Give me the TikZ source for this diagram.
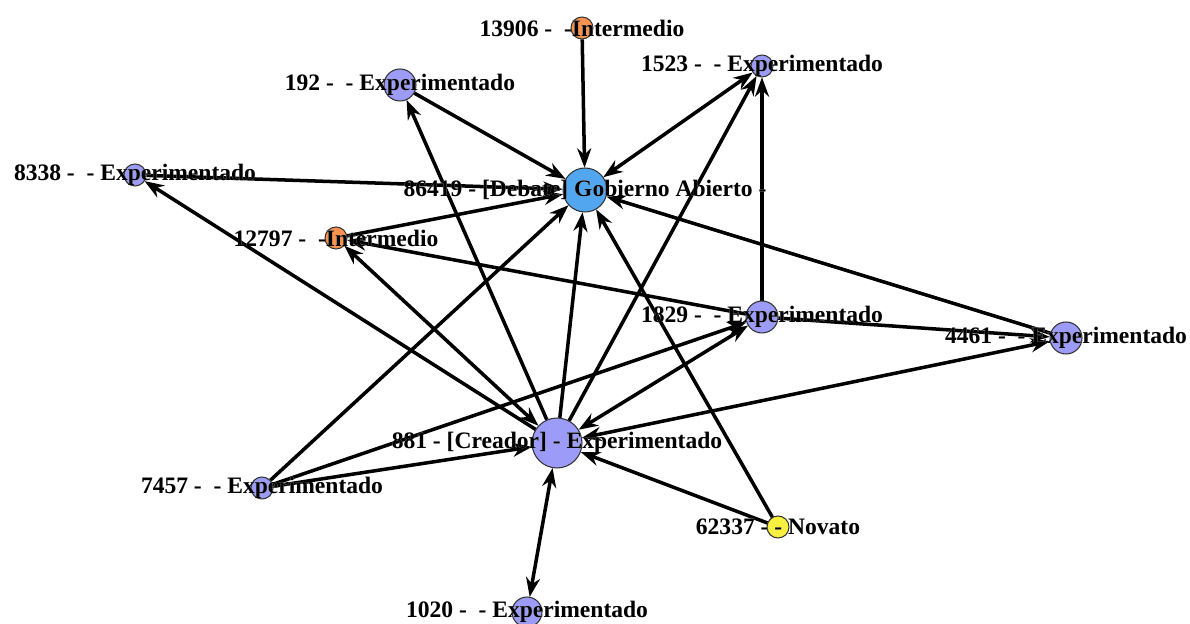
\documentclass[tikz,border=0pt]{standalone}
\usepackage{fontspec}
\setmainfont{Liberation Serif}
\usepackage[outline]{contour}
\contourlength{0.7pt}
\usetikzlibrary{arrows.meta}
\definecolor{expcol}{HTML}{9C9CF8}
\definecolor{debcol}{HTML}{52A6F0}
\definecolor{intcol}{HTML}{F8924E}
\definecolor{novcol}{HTML}{F8F040}
\definecolor{halocol}{HTML}{E6E6E6}
\tikzset{
  vert/.style={circle, draw=black!80, line width=0.6pt, inner sep=0pt},
  exp/.style={vert, fill=expcol},
  deb/.style={vert, fill=debcol},
  int/.style={vert, fill=intcol},
  nov/.style={vert, fill=novcol},
  big/.style={minimum size=1.0cm},
  mid/.style={minimum size=0.88cm},
  med/.style={minimum size=0.64cm},
  sml/.style={minimum size=0.44cm},
  lbl/.style={inner sep=0pt, font=\fontsize{13.4}{15}\selectfont\bfseries, text=black},
  edge/.style={line width=2pt, -{Stealth[length=11pt,width=8pt]}},
  bedge/.style={line width=2pt, {Stealth[length=11pt,width=8pt]}-{Stealth[length=11pt,width=8pt]}},
}
\newcommand{\halo}[1]{\contour{halocol}{#1}}
\begin{document}
\begin{tikzpicture}[x=0.02cm,y=-0.02cm]
\useasboundingbox[fill=white] (0,0) rectangle (1190,624);

% vertex positions
\coordinate (p13906) at (582,28);
\coordinate (p1523) at (762,66);
\coordinate (p192) at (400,85);
\coordinate (p8338) at (135,175);
\coordinate (p86419) at (585,190);
\coordinate (p12797) at (336,238);
\coordinate (p1829) at (762,317);
\coordinate (p4461) at (1066,338);
\coordinate (p881) at (557,443);
\coordinate (p7457) at (262,488);
\coordinate (p62337) at (778,527);
\coordinate (p1020) at (527,612);

% invisible vertex outlines used to clip the connections
\node[sml, circle, inner sep=0pt] (n13906) at (p13906) {};
\node[sml, circle, inner sep=0pt] (n1523) at (p1523) {};
\node[med, circle, inner sep=0pt] (n192) at (p192) {};
\node[sml, circle, inner sep=0pt] (n8338) at (p8338) {};
\node[mid, circle, inner sep=0pt] (n86419) at (p86419) {};
\node[sml, circle, inner sep=0pt] (n12797) at (p12797) {};
\node[med, circle, inner sep=0pt] (n1829) at (p1829) {};
\node[med, circle, inner sep=0pt] (n4461) at (p4461) {};
\node[big, circle, inner sep=0pt] (n881) at (p881) {};
\node[sml, circle, inner sep=0pt] (n7457) at (p7457) {};
\node[sml, circle, inner sep=0pt] (n62337) at (p62337) {};
\node[minimum size=0.6cm, circle, inner sep=0pt] (n1020) at (p1020) {};

% connections
\draw[edge] (n13906) -- (n86419);
\draw[edge] (n192) -- (n86419);
\draw[edge] (n8338) -- (n86419);
\draw[edge] (n12797) -- (n86419);
\draw[edge] (n881) -- (n86419);
\draw[edge] (n7457) -- (n86419);
\draw[edge] (n62337) -- (n86419);
\draw[edge] (n4461) -- (n86419);
\draw[bedge] (n86419) -- (n1523);
\draw[edge] (n881) -- (n192);
\draw[edge] (n881) -- (n8338);
\draw[bedge] (n881) -- (n12797);
\draw[edge] (n1829) -- (n12797);
\draw[edge] (n1829) -- (n1523);
\draw[edge] (n1829) -- (n4461);
\draw[bedge] (n881) -- (n1829);
\draw[bedge] (n881) -- (n4461);
\draw[edge] (n7457) -- (n1829);
\draw[edge] (n7457) -- (n881);
\draw[edge] (n62337) -- (n881);
\draw[bedge] (n881) -- (n1020);
\draw[edge] (n881) -- (n1523);

% vertex discs
\node[int, sml] (d13906) at (p13906) {};
\node[exp, sml] (d1523) at (p1523) {};
\node[exp, med] (d192) at (p192) {};
\node[exp, sml] (d8338) at (p8338) {};
\node[deb, mid] (d86419) at (p86419) {};
\node[int, sml] (d12797) at (p12797) {};
\node[exp, med] (d1829) at (p1829) {};
\node[exp, med] (d4461) at (p4461) {};
\node[exp, big] (d881) at (p881) {};
\node[exp, sml] (d7457) at (p7457) {};
\node[nov, sml] (d62337) at (p62337) {};
\node[exp, minimum size=0.6cm] (d1020) at (p1020) {};

% labels
\node[lbl] (l13906) at (p13906) {\halo{13906 -\ \ -Intermedio}};
\node[lbl] (l1523) at (p1523) {\halo{1523 -\ \ - Experimentado}};
\node[lbl] (l192) at (p192) {\halo{192 -\ \ - Experimentado}};
\node[lbl] (l8338) at (p8338) {\halo{8338 -\ \ - Experimentado}};
\node[lbl] (l86419) at (p86419) {\halo{86419 - [Debate] Gobierno Abierto -}};
\node[lbl] (l12797) at (p12797) {\halo{12797 -\ \ -Intermedio}};
\node[lbl] (l1829) at (p1829) {\halo{1829 -\ \ - Experimentado}};
\node[lbl] (l4461) at (p4461) {\halo{4461 -\ \ - Experimentado}};
\node[lbl] (l881) at (p881) {\halo{881 - [Creador] - Experimentado}};
\node[lbl] (l7457) at (p7457) {\halo{7457 -\ \ - Experimentado}};
\node[lbl] (l62337) at (p62337) {\halo{62337 - - Novato}};
\node[lbl] (l1020) at (p1020) {\halo{1020 -\ \ - Experimentado}};
\end{tikzpicture}
\end{document}
